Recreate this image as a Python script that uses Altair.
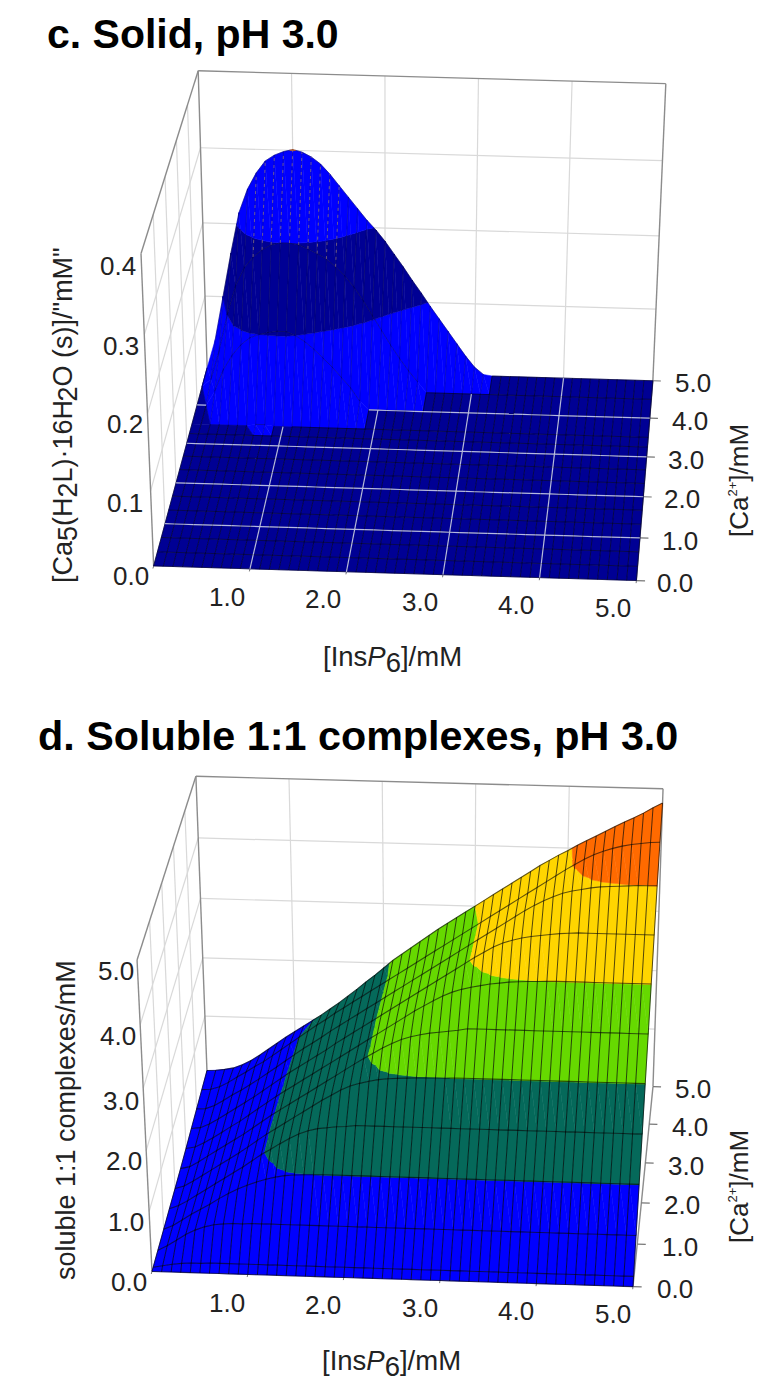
import numpy as np
import altair as alt

W, H = 763, 1379
M = 8  # page margin

# ---------- values ----------
INS = [round(i * 0.1, 1) for i in range(51)]          # [InsP6]/mM grid
TICKS = [0, 1, 2, 3, 4, 5]

CA_C = [0, 0.33, 0.67, 1, 1.33, 1.67, 2, 2.33, 2.67, 3, 3.25, 3.5, 4, 4.5, 5]
ZERO = [0.0] * 51
SOLID = [ZERO] * 11 + [
    # ca = 3.5
    [0.0] * 7 + [0.002, 0.002] + [0.0] * 42,
    # ca = 4.0
    [0, 0, .02, .05, .07, .085, .095, .10, .103, .105,
     .105, .10, .092, .082, .07, .058, .044, .03, .012] + [0.0] * 32,
    # ca = 4.5
    [0, .01, .05, .10, .14, .165, .18, .19, .197, .20,
     .20, .198, .193, .187, .18, .17, .158, .143, .125, .105,
     .085, .065, .047, .03, .015] + [0.0] * 26,
    # ca = 5.0
    [0, .04, .10, .16, .215, .247, .269, .285, .293, .298,
     .301, .298, .292, .283, .27, .255, .24, .225, .21, .197,
     .182, .165, .148, .13, .113, .095, .078, .061, .044, .027,
     .012, .002] + [0.0] * 19,
]

CA_D = [0, 0.1, 0.5, 1, 1.5, 2, 2.5, 3, 3.5, 4, 4.5, 5]
SOLUBLE = [
    ZERO,
    [0, .03, .06, .08, .09, .09, .10, .10, .10, .10] + [0.10] * 41,
    [0, .08, .18, .28, .36, .42, .46, .48, .49, .49] + [0.50] * 41,
    [0, .07, .17, .27, .36, .45, .55, .64, .72, .79,
     .85, .90, .94, .97, .985, .995, 1.0] + [1.005] * 34,
    [0, .06, .15, .25, .35, .45, .55, .65, .75, .86,
     .97, 1.06, 1.16, 1.25, 1.33, 1.39, 1.43, 1.45, 1.47, 1.48] + [1.50] * 31,
    [0, .05, .14, .24, .34, .44, .54, .64, .75, .86,
     .97, 1.07, 1.17, 1.27, 1.37, 1.47, 1.57, 1.66, 1.75, 1.82,
     1.87, 1.91, 1.94, 1.96, 1.97, 1.98, 1.99, 1.99, 1.995, 1.995] + [2.005] * 21,
    [0, .04, .13, .23, .33, .43, .53, .63, .74, .85,
     .96, 1.06, 1.16, 1.26, 1.36, 1.46, 1.56, 1.66, 1.76, 1.86,
     1.96, 2.05, 2.14, 2.22, 2.29, 2.34, 2.38, 2.41, 2.43, 2.45,
     2.47] + [2.50] * 20,
    [.01, .04, .12, .21, .31, .41, .51, .62, .73, .84,
     .95, 1.05, 1.15, 1.25, 1.35, 1.45, 1.55, 1.65, 1.75, 1.85,
     1.95, 2.05, 2.15, 2.25, 2.35, 2.45, 2.54, 2.63, 2.71, 2.78,
     2.83, 2.87, 2.90, 2.93, 2.95, 2.97, 2.98, 2.99, 2.995, 3.0] + [3.005] * 11,
    [.02, .04, .11, .20, .30, .40, .50, .60, .71, .82,
     .93, 1.04, 1.14, 1.24, 1.34, 1.44, 1.55, 1.65, 1.75, 1.85,
     1.95, 2.05, 2.15, 2.25, 2.35, 2.45, 2.55, 2.65, 2.75, 2.85,
     2.95, 3.05, 3.14, 3.23, 3.30, 3.35, 3.39, 3.42, 3.44, 3.46,
     3.48, 3.49] + [3.50] * 9,
    [.03, .04, .10, .19, .29, .38, .48, .58, .69, .80,
     .91, 1.02, 1.13, 1.23, 1.33, 1.44, 1.54, 1.64, 1.74, 1.84,
     1.94, 2.04, 2.14, 2.24, 2.34, 2.44, 2.54, 2.64, 2.74, 2.84,
     2.94, 3.04, 3.14, 3.24, 3.34, 3.44, 3.54, 3.63, 3.71, 3.78,
     3.84, 3.88, 3.91, 3.94, 3.96, 3.97, 3.98, 3.99, 4.0, 4.0, 4.005],
    [.04, .05, .10, .18, .28, .37, .47, .56, .67, .78,
     .89, 1.0, 1.11, 1.22, 1.32, 1.43, 1.53, 1.63, 1.73, 1.83,
     1.93, 2.03, 2.13, 2.23, 2.33, 2.43, 2.53, 2.63, 2.73, 2.83,
     2.93, 3.03, 3.13, 3.23, 3.33, 3.43, 3.53, 3.63, 3.73, 3.83,
     3.93, 4.02, 4.11, 4.19, 4.25, 4.30, 4.34, 4.37, 4.39, 4.41, 4.42],
    [.05, .06, .08, .11, .17, .25, .35, .46, .57, .68,
     .78, .88, .98, 1.08, 1.19, 1.30, 1.42, 1.54, 1.67, 1.79,
     1.92, 2.05, 2.16, 2.27, 2.38, 2.49, 2.60, 2.70, 2.80, 2.90,
     3.0, 3.1, 3.2, 3.3, 3.4, 3.5, 3.6, 3.7, 3.79, 3.88,
     3.96, 4.05, 4.13, 4.21, 4.29, 4.37, 4.45, 4.52, 4.60, 4.69, 4.77],
]

BANDS_C = [(-1, 1e-6, "#000094"), (1e-6, .1, "#0000ff"), (.1, .2, "#000094"),
           (.2, .3, "#0000ff"), (.3, 9, "#ff6a00")]
BANDS_D = [(-1, 1, "#0000ff"), (1, 2, "#05695a"), (2, 3, "#66d900"),
           (3, 4, "#ffd500"), (4, 9, "#ff6a00")]

# camera fits: (ins, ca, share of box height) -> picture position
PTS_3D = [(0, 0, 0), (5, 0, 0), (5, 5, 0), (0, 5, 0), (0, 0, 1), (0, 5, 1), (5, 5, 1)]
PTS_C = [(154, 566), (636, 581), (653, 380), (207, 368), (141, 253), (198, 71), (666, 84)]
PTS_D = [(152, 1271), (633, 1287), (653, 1086), (207, 1074), (137, 960), (196, 776), (663, 789)]


def camera(p3, p2):
    rows = []
    for (a, b, c), (u, v) in zip(p3, p2):
        rows.append([a, b, c, 1, 0, 0, 0, 0, -u * a, -u * b, -u * c, -u])
        rows.append([0, 0, 0, 0, a, b, c, 1, -v * a, -v * b, -v * c, -v])
    return np.linalg.svd(np.array(rows, float))[2][-1].reshape(3, 4)


def feature(kind, coords, f="none", s="none", w=0.0, o=1.0):
    return {"type": "Feature", "geometry": {"type": kind, "coordinates": coords},
            "properties": {"f": f, "s": s, "w": w, "o": o}}


def clip(poly, level, keep_above):
    out = []
    n = len(poly)
    for i in range(n):
        p, q = poly[i], poly[(i + 1) % n]
        pin = p[2] >= level if keep_above else p[2] <= level
        qin = q[2] >= level if keep_above else q[2] <= level
        if pin:
            out.append(p)
        if pin != qin:
            t = (level - p[2]) / (q[2] - p[2])
            out.append(tuple(p[k] + t * (q[k] - p[k]) for k in range(3)))
    return out


def panel(cam, ca_vals, table, zmax, bands, z_ticks, mesh, solid):
    def pr(a, b, z):
        v = cam @ np.array([a, b, z / zmax, 1.0])
        return [round(float(v[0] / v[2]) - M, 2), round(float(v[1] / v[2]) - M, 2)]

    walls, fills, lines, floor = [], [], [], []
    grid, frame = "#d9d9d9", "#8c8c8c"

    def seg(p, q, color, width):
        walls.append(feature("LineString", [pr(*p), pr(*q)], s=color, w=width))

    for t in TICKS[1:-1]:
        seg((t, 5, 0), (t, 5, zmax), grid, 1.2)
        seg((0, t, 0), (0, t, zmax), grid, 1.2)
    for z in z_ticks[1:-1]:
        seg((0, 5, z), (5, 5, z), grid, 1.2)
        seg((0, 0, z), (0, 5, z), grid, 1.2)
    for p, q in [((0, 0, 0), (0, 0, zmax)), ((0, 0, zmax), (0, 5, zmax)), ((0, 5, zmax), (5, 5, zmax)),
                 ((5, 5, zmax), (5, 5, 0)), ((0, 5, 0), (0, 5, zmax)), ((5, 5, 0), (5, 0, 0))]:
        seg(p, q, frame, 1.4)
    for t in TICKS:
        seg((5, t, 0), (5.09, t, 0), "#777777", 1.2)
        seg((t, 0, 0), (t, -0.06, 0), "#777777", 1.0)

    col_c, row_w, row_o, col_o, hump_o = mesh
    nrow = len(ca_vals)
    for r in range(nrow - 2, -1, -1):
        lo_row, hi_row = table[r], table[r + 1]
        c0, c1 = ca_vals[r], ca_vals[r + 1]
        for j in range(50):
            a0, a1 = INS[j], INS[j + 1]
            A = (a0, c1, hi_row[j])
            B = (a1, c1, hi_row[j + 1])
            C = (a1, c0, lo_row[j + 1])
            D = (a0, c0, lo_row[j])
            zq = [A[2], B[2], C[2], D[2]]
            whole = next((b for b in bands if b[0] <= min(zq) and max(zq) <= b[1]), None)
            if whole:
                ring = [pr(*p) for p in (A, B, C, D, A)]
                fills.append(feature("Polygon", [ring], f=whole[2], s=whole[2], w=0.5))
                continue
            for tri in ([A, B, C], [A, C, D]):
                for lo, hi, col in bands:
                    poly = clip(clip(tri, lo, True), hi, False)
                    if len(poly) < 3:
                        continue
                    ring = [pr(*p) for p in poly]
                    ring.append(ring[0])
                    fills.append(feature("Polygon", [ring], f=col, s=col, w=0.5))
        for j in range(51):
            flat = lo_row[j] == 0 and hi_row[j] == 0
            lines.append(feature("LineString",
                                 [pr(INS[j], c1, hi_row[j]), pr(INS[j], c0, lo_row[j])],
                                 s=col_c, w=1.0, o=col_o if flat or not solid else hump_o))
        if solid:
            for j in range(10, 50, 10):
                if lo_row[j] == 0 and hi_row[j] == 0:
                    floor.append(feature("LineString", [pr(INS[j], c1, 0), pr(INS[j], c0, 0)],
                                         s="#c9cdf0", w=1.2, o=0.9))
            if c0 in TICKS[1:-1]:
                for j in range(50):
                    if lo_row[j] == 0 and lo_row[j + 1] == 0:
                        floor.append(feature("LineString", [pr(INS[j], c0, 0), pr(INS[j + 1], c0, 0)],
                                             s="#c9cdf0", w=1.2, o=0.9))
    for r, ca in enumerate(ca_vals):
        row = table[r]
        if not solid or all(v == 0 for v in row):
            lines.append(feature("LineString", [pr(INS[j], ca, row[j]) for j in range(51)],
                                 s=col_c, w=row_w, o=row_o))
        else:
            hump_part = [pr(INS[j], ca, row[j]) for j in range(51) if row[j] != 0]
            lines.append(feature("LineString", hump_part, s=col_c, w=row_w, o=hump_o + 0.1))
            right = [pr(INS[j], ca, 0) for j in range(51) if row[j] == 0 and INS[j] > 1]
            lines.append(feature("LineString", right, s=col_c, w=row_w, o=row_o))
    return walls + fills + lines + floor


feats = panel(camera(PTS_3D, PTS_C), CA_C, SOLID, 0.4, BANDS_C, [0, .1, .2, .3, .4],
              ("#000020", 1.0, 0.6, 0.65, 0.25), True)
feats += panel(camera(PTS_3D, PTS_D), CA_D, SOLUBLE, 5.0, BANDS_D, [0, 1, 2, 3, 4, 5],
               ("#000000", 1.1, 0.62, 0.68, 0.68), False)

surface = alt.Chart(alt.Data(values=feats)).mark_geoshape().encode(
    fill=alt.Fill("properties.f:N", scale=None),
    stroke=alt.Stroke("properties.s:N", scale=None),
    strokeWidth=alt.StrokeWidth("properties.w:Q", scale=None),
    strokeOpacity=alt.StrokeOpacity("properties.o:Q", scale=None),
).project(type="identity", scale=1, translate=[0, 0])

# dashed light marks on the top band of the hump in panel c
cam_c = camera(PTS_3D, PTS_C)


def top_dash(j):
    out = []
    for ca, row in zip(CA_C[-2:], SOLID[-2:]):
        v = cam_c @ np.array([INS[j], ca, row[j] / 0.4, 1.0])
        out.append([round(float(v[0] / v[2]) - M, 2), round(float(v[1] / v[2]) - M, 2)])
    return feature("LineString", out)


dashes = alt.Chart(alt.Data(values=[top_dash(j) for j in range(6, 16)])).mark_geoshape(
    fill=None, stroke="#9a7f80", strokeWidth=0.9, strokeDash=[3, 4], strokeOpacity=0.75
).project(type="identity", scale=1, translate=[0, 0])

# ---------- text ----------
ADV = {"[": .278, "]": .278, "(": .333, ")": .333, "/": .278, "\"": .355, "·": .278, " ": .278,
       "C": .722, "a": .556, "H": .722, "L": .556, "O": .778, "s": .5, "m": .833, "M": .833,
       "I": .278, "n": .556, "P": .667, "+": .584}
ADV.update({d: .556 for d in "0123456789"})
texts = {"normal": [], "italic": [], "bold": []}


def put(x, y, text, size=26, angle=0, style="normal"):
    texts[style].append({"x": x - M, "y": y - M, "t": text, "size": size, "angle": angle})


def run(x, y, angle, pieces):
    for text, size, style, shift in pieces:
        if angle == 0:
            put(x, y + shift, text, size, 0, style)
            x += sum(ADV[c] for c in text) * size
        else:
            put(x + shift, y, text, size, 270, style)
            y -= sum(ADV[c] for c in text) * size


put(47, 48, "c. Solid, pH 3.0", 41, 0, "bold")
put(38, 750, "d. Soluble 1:1 complexes, pH 3.0", 41.3, 0, "bold")

LEFT_C = [("0.0", 113, 585), ("0.1", 107, 512), ("0.2", 107, 433), ("0.3", 103, 355), ("0.4", 100, 275)]
LEFT_D = [("0.0", 111, 1291), ("1.0", 108, 1231), ("2.0", 106, 1170), ("3.0", 103, 1110),
          ("4.0", 100, 1045), ("5.0", 98, 980)]
BOTTOM = [("1.0", 209, 1312), ("2.0", 305, 1314), ("3.0", 402, 1317), ("4.0", 498, 1320), ("5.0", 595, 1323)]
RIGHT = [("0.0", 657, 1298), ("1.0", 662, 1256), ("2.0", 664, 1214), ("3.0", 668, 1175),
         ("4.0", 672, 1136), ("5.0", 675, 1098)]
for t, x, y in LEFT_C + LEFT_D:
    put(x, y, t)
for t, x, y in BOTTOM + RIGHT:
    put(x, y, t)
    put(x, y - 706, t)

for bx, by in [(323, 666), (322, 1370)]:
    run(bx, by, 0, [("[Ins", 27.5, "normal", 0), ("P", 27.5, "italic", 0), ("6", 27.5, "normal", 6),
                    ("]/mM", 27.5, "normal", 0)])
for ry in [537, 1243]:
    run(748, ry, 270, [("[Ca", 26, "normal", 0), ("2+", 13, "normal", -11), ("]/mM", 26, "normal", 0)])
S = 27
run(72, 583, 270, [("[Ca", S, "normal", 0), ("5", S, "normal", 5), ("(H", S, "normal", 0),
                   ("2", S, "normal", 5), ("L)·16H", S, "normal", 0), ("2", S, "normal", 5),
                   ("O (s)]/\"mM\"", S, "normal", 0)])
put(75, 1280, "soluble 1:1 complexes/mM", 27, 270)


def text_layer(rows, color="#222222", **kw):
    return alt.Chart(alt.Data(values=rows)).mark_text(
        align="left", baseline="alphabetic", font="Liberation Sans", color=color, **kw
    ).encode(
        x=alt.X("x:Q", scale=None, axis=None),
        y=alt.Y("y:Q", scale=None, axis=None),
        text="t:N",
        size=alt.Size("size:Q", scale=None),
        angle=alt.Angle("angle:Q", scale=None),
    )


chart = alt.layer(
    surface,
    dashes,
    text_layer(texts["normal"]),
    text_layer(texts["italic"], fontStyle="italic"),
    text_layer(texts["bold"], color="#000000", fontWeight="bold"),
).properties(width=W, height=H, padding=0, autosize=alt.AutoSizeParams(type="none")
).configure_view(stroke=None)

chart.save("out.html", embed_options={"renderer": "svg", "actions": False})
